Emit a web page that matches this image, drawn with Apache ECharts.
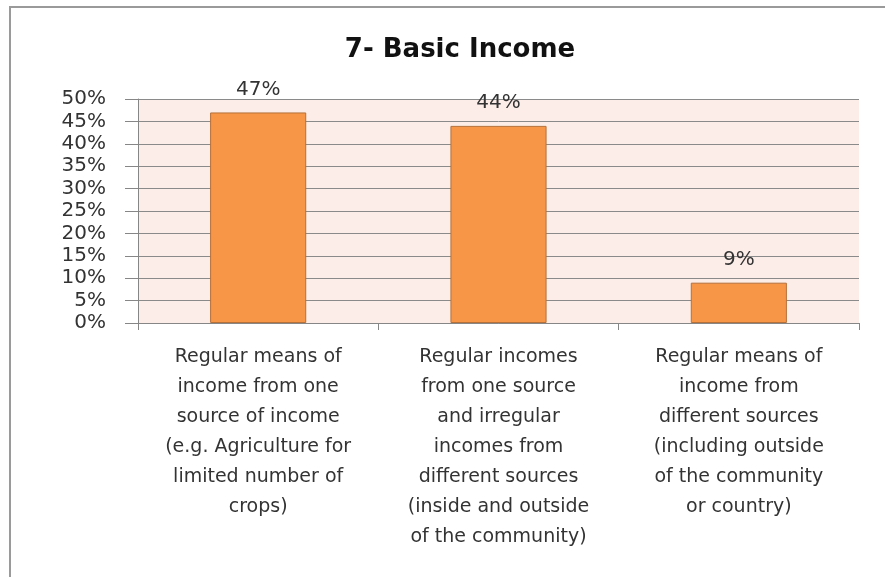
<html><head>
<meta charset="UTF-8">
<title>7- Basic Income</title>
<style>
  body { margin: 0; background: #fff; }
  #chart { width: 885px; height: 577px; }
</style>
</head>
<body>
  <div id="chart"></div>
  <script src="https://cdn.jsdelivr.net/npm/echarts@6/dist/echarts.min.js"></script>
  <script>
    // chart data
    const categories = [
      'Regular means of\nincome from one\nsource of income\n(e.g. Agriculture for\nlimited number of\ncrops)',
      'Regular incomes\nfrom one source\nand irregular\nincomes from\ndifferent sources\n(inside and outside\nof the community)',
      'Regular means of\nincome from\ndifferent sources\n(including outside\nof the community\nor country)'
    ];
    const values = [47, 44, 9];
    const yTicks = [0, 5, 10, 15, 20, 25, 30, 35, 40, 45, 50];

    const chart = echarts.init(document.getElementById('chart'));

    chart.setOption({
      animation: false,
      backgroundColor: '#fff',
      title: {
        text: '7- Basic Income',
        left: 455,
        textAlign: 'center',
        top: 32,
        textStyle: { fontFamily: 'DejaVu Sans', fontSize: 26, fontWeight: 'bold', color: '#111' }
      },
      graphic: [{
        type: 'rect',
        z: -1,
        shape: { x: 10, y: 7, width: 900, height: 600 },
        style: { fill: 'none', stroke: '#9a9a9a', lineWidth: 2 }
      }],
      grid: {
        left: 138, right: 26, top: 99, bottom: 254,
        show: true, backgroundColor: '#fcede8', borderWidth: 0
      },
      xAxis: {
        type: 'category',
        data: categories,
        axisLine: { lineStyle: { color: '#868686', width: 1 } },
        axisTick: { show: true, length: 7, lineStyle: { color: '#868686' } },
        axisLabel: {
          interval: 0,
          margin: 19,
          fontFamily: 'DejaVu Sans',
          fontSize: 19,
          lineHeight: 30,
          color: '#333',
          align: 'center'
        }
      },
      yAxis: {
        type: 'value',
        min: yTicks[0],
        max: yTicks[yTicks.length - 1],
        interval: 5,
        axisLine: { show: true, lineStyle: { color: '#868686', width: 1 } },
        axisTick: { show: true, length: 13, lineStyle: { color: '#868686' } },
        splitLine: { show: true, lineStyle: { color: '#8a8a8a', width: 1 } },
        axisLabel: {
          margin: 32,
          fontFamily: 'DejaVu Sans',
          fontSize: 20,
          color: '#333',
          formatter: v => v + '%'
        }
      },
      series: [{
        type: 'bar',
        data: values,
        barWidth: '40%',
        itemStyle: { color: '#f79646', borderColor: '#b5703a', borderWidth: 1 },
        label: {
          show: true,
          position: 'top',
          distance: 13,
          fontFamily: 'DejaVu Sans',
          fontSize: 20,
          color: '#333',
          formatter: p => p.value + '%'
        }
      }]
    });
  </script>
</body></html>
